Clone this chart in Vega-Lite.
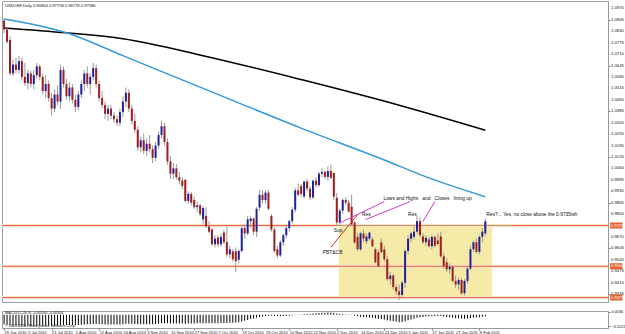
{
"$schema": "https://vega.github.io/schema/vega-lite/v6.json",
"padding": 0,
"background": "white",
"spacing": 6,
"config": {"font": "Liberation Sans", "view": {"stroke": "#a0a0a0", "strokeWidth": 1}, "scale": {"continuousPadding": 0}},
"datasets": {
"bars": [
{"i":0,"o":1.0900,"h":1.0915,"l":1.0830,"c":1.0850,"m":-0.0100},
{"i":1,"o":1.0850,"h":1.0860,"l":1.0770,"c":1.0780,"m":-0.0105},
{"i":2,"o":1.0790,"h":1.0810,"l":1.0590,"c":1.0600,"m":-0.0112},
{"i":3,"o":1.0600,"h":1.0680,"l":1.0585,"c":1.0650,"m":-0.0115},
{"i":4,"o":1.0650,"h":1.0690,"l":1.0600,"c":1.0620,"m":-0.0117},
{"i":5,"o":1.0620,"h":1.0700,"l":1.0600,"c":1.0670,"m":-0.0118},
{"i":6,"o":1.0670,"h":1.0690,"l":1.0560,"c":1.0580,"m":-0.0120},
{"i":7,"o":1.0580,"h":1.0660,"l":1.0530,"c":1.0545,"m":-0.0121},
{"i":8,"o":1.0545,"h":1.0620,"l":1.0510,"c":1.0600,"m":-0.0121},
{"i":9,"o":1.0600,"h":1.0615,"l":1.0520,"c":1.0540,"m":-0.0120},
{"i":10,"o":1.0540,"h":1.0620,"l":1.0510,"c":1.0590,"m":-0.0119},
{"i":11,"o":1.0590,"h":1.0660,"l":1.0570,"c":1.0640,"m":-0.0117},
{"i":12,"o":1.0640,"h":1.0650,"l":1.0560,"c":1.0580,"m":-0.0116},
{"i":13,"o":1.0580,"h":1.0600,"l":1.0480,"c":1.0500,"m":-0.0116},
{"i":14,"o":1.0500,"h":1.0590,"l":1.0460,"c":1.0540,"m":-0.0115},
{"i":15,"o":1.0540,"h":1.0560,"l":1.0440,"c":1.0460,"m":-0.0115},
{"i":16,"o":1.0460,"h":1.0490,"l":1.0360,"c":1.0400,"m":-0.0116},
{"i":17,"o":1.0400,"h":1.0510,"l":1.0380,"c":1.0480,"m":-0.0115},
{"i":18,"o":1.0480,"h":1.0530,"l":1.0420,"c":1.0440,"m":-0.0114},
{"i":19,"o":1.0440,"h":1.0650,"l":1.0400,"c":1.0620,"m":-0.0110},
{"i":20,"o":1.0620,"h":1.0640,"l":1.0520,"c":1.0540,"m":-0.0108},
{"i":21,"o":1.0540,"h":1.0570,"l":1.0450,"c":1.0470,"m":-0.0108},
{"i":22,"o":1.0470,"h":1.0550,"l":1.0440,"c":1.0520,"m":-0.0107},
{"i":23,"o":1.0520,"h":1.0540,"l":1.0430,"c":1.0450,"m":-0.0107},
{"i":24,"o":1.0450,"h":1.0480,"l":1.0380,"c":1.0410,"m":-0.0108},
{"i":25,"o":1.0410,"h":1.0500,"l":1.0390,"c":1.0480,"m":-0.0107},
{"i":26,"o":1.0480,"h":1.0560,"l":1.0460,"c":1.0540,"m":-0.0105},
{"i":27,"o":1.0540,"h":1.0620,"l":1.0500,"c":1.0600,"m":-0.0102},
{"i":28,"o":1.0600,"h":1.0640,"l":1.0520,"c":1.0540,"m":-0.0101},
{"i":29,"o":1.0540,"h":1.0600,"l":1.0480,"c":1.0580,"m":-0.0100},
{"i":30,"o":1.0580,"h":1.0660,"l":1.0560,"c":1.0630,"m":-0.0098},
{"i":31,"o":1.0630,"h":1.0650,"l":1.0520,"c":1.0540,"m":-0.0098},
{"i":32,"o":1.0540,"h":1.0560,"l":1.0440,"c":1.0460,"m":-0.0099},
{"i":33,"o":1.0460,"h":1.0500,"l":1.0400,"c":1.0420,"m":-0.0100},
{"i":34,"o":1.0420,"h":1.0440,"l":1.0340,"c":1.0370,"m":-0.0102},
{"i":35,"o":1.0370,"h":1.0420,"l":1.0330,"c":1.0400,"m":-0.0102},
{"i":36,"o":1.0400,"h":1.0420,"l":1.0340,"c":1.0360,"m":-0.0103},
{"i":37,"o":1.0360,"h":1.0380,"l":1.0320,"c":1.0340,"m":-0.0103},
{"i":38,"o":1.0340,"h":1.0360,"l":1.0300,"c":1.0320,"m":-0.0104},
{"i":39,"o":1.0320,"h":1.0400,"l":1.0300,"c":1.0380,"m":-0.0102},
{"i":40,"o":1.0380,"h":1.0470,"l":1.0350,"c":1.0440,"m":-0.0099},
{"i":41,"o":1.0440,"h":1.0520,"l":1.0410,"c":1.0490,"m":-0.0096},
{"i":42,"o":1.0490,"h":1.0510,"l":1.0380,"c":1.0400,"m":-0.0095},
{"i":43,"o":1.0400,"h":1.0420,"l":1.0310,"c":1.0330,"m":-0.0096},
{"i":44,"o":1.0330,"h":1.0370,"l":1.0260,"c":1.0280,"m":-0.0098},
{"i":45,"o":1.0280,"h":1.0300,"l":1.0160,"c":1.0180,"m":-0.0101},
{"i":46,"o":1.0180,"h":1.0240,"l":1.0150,"c":1.0220,"m":-0.0101},
{"i":47,"o":1.0220,"h":1.0260,"l":1.0140,"c":1.0160,"m":-0.0101},
{"i":48,"o":1.0160,"h":1.0230,"l":1.0130,"c":1.0200,"m":-0.0100},
{"i":49,"o":1.0200,"h":1.0250,"l":1.0150,"c":1.0170,"m":-0.0099},
{"i":50,"o":1.0170,"h":1.0190,"l":1.0090,"c":1.0120,"m":-0.0099},
{"i":51,"o":1.0120,"h":1.0210,"l":1.0100,"c":1.0190,"m":-0.0097},
{"i":52,"o":1.0190,"h":1.0270,"l":1.0170,"c":1.0250,"m":-0.0094},
{"i":53,"o":1.0250,"h":1.0330,"l":1.0230,"c":1.0300,"m":-0.0091},
{"i":54,"o":1.0300,"h":1.0320,"l":1.0190,"c":1.0210,"m":-0.0090},
{"i":55,"o":1.0210,"h":1.0230,"l":1.0080,"c":1.0100,"m":-0.0091},
{"i":56,"o":1.0100,"h":1.0130,"l":1.0000,"c":1.0030,"m":-0.0092},
{"i":57,"o":1.0030,"h":1.0090,"l":1.0000,"c":1.0060,"m":-0.0092},
{"i":58,"o":1.0060,"h":1.0085,"l":0.9995,"c":1.0010,"m":-0.0092},
{"i":59,"o":1.0010,"h":1.0040,"l":0.9970,"c":0.9990,"m":-0.0093},
{"i":60,"o":0.9990,"h":1.0010,"l":0.9940,"c":0.9960,"m":-0.0093},
{"i":61,"o":0.9995,"h":1.0000,"l":0.9870,"c":0.9875,"m":-0.0094},
{"i":62,"o":0.9875,"h":0.9930,"l":0.9860,"c":0.9915,"m":-0.0093},
{"i":63,"o":0.9915,"h":0.9925,"l":0.9850,"c":0.9865,"m":-0.0092},
{"i":64,"o":0.9880,"h":0.9900,"l":0.9830,"c":0.9840,"m":-0.0092},
{"i":65,"o":0.9840,"h":0.9870,"l":0.9810,"c":0.9850,"m":-0.0091},
{"i":66,"o":0.9850,"h":0.9860,"l":0.9790,"c":0.9800,"m":-0.0091},
{"i":67,"o":0.9770,"h":0.9845,"l":0.9740,"c":0.9835,"m":-0.0090},
{"i":68,"o":0.9790,"h":0.9840,"l":0.9720,"c":0.9730,"m":-0.0090},
{"i":69,"o":0.9730,"h":0.9760,"l":0.9690,"c":0.9700,"m":-0.0090},
{"i":70,"o":0.9712,"h":0.9720,"l":0.9620,"c":0.9628,"m":-0.0091},
{"i":71,"o":0.9628,"h":0.9680,"l":0.9610,"c":0.9660,"m":-0.0090},
{"i":72,"o":0.9667,"h":0.9680,"l":0.9610,"c":0.9628,"m":-0.0090},
{"i":73,"o":0.9628,"h":0.9690,"l":0.9615,"c":0.9670,"m":-0.0088},
{"i":74,"o":0.9695,"h":0.9710,"l":0.9630,"c":0.9640,"m":-0.0087},
{"i":75,"o":0.9640,"h":0.9730,"l":0.9555,"c":0.9571,"m":-0.0087},
{"i":76,"o":0.9571,"h":0.9620,"l":0.9550,"c":0.9600,"m":-0.0085},
{"i":77,"o":0.9588,"h":0.9600,"l":0.9530,"c":0.9543,"m":-0.0084},
{"i":78,"o":0.9588,"h":0.9610,"l":0.9470,"c":0.9532,"m":-0.0083},
{"i":79,"o":0.9540,"h":0.9600,"l":0.9520,"c":0.9590,"m":-0.0079},
{"i":80,"o":0.9590,"h":0.9730,"l":0.9580,"c":0.9720,"m":-0.0072},
{"i":81,"o":0.9720,"h":0.9740,"l":0.9660,"c":0.9690,"m":-0.0064},
{"i":82,"o":0.9690,"h":0.9790,"l":0.9680,"c":0.9770,"m":-0.0055},
{"i":83,"o":0.9760,"h":0.9790,"l":0.9720,"c":0.9775,"m":-0.0046},
{"i":84,"o":0.9775,"h":0.9780,"l":0.9680,"c":0.9700,"m":-0.0040},
{"i":85,"o":0.9700,"h":0.9840,"l":0.9670,"c":0.9830,"m":-0.0032},
{"i":86,"o":0.9837,"h":0.9940,"l":0.9820,"c":0.9910,"m":-0.0024},
{"i":87,"o":0.9910,"h":0.9935,"l":0.9860,"c":0.9880,"m":-0.0018},
{"i":88,"o":0.9880,"h":0.9935,"l":0.9860,"c":0.9922,"m":-0.0013},
{"i":89,"o":0.9922,"h":0.9940,"l":0.9820,"c":0.9830,"m":-0.0011},
{"i":90,"o":0.9790,"h":0.9800,"l":0.9700,"c":0.9712,"m":-0.0011},
{"i":91,"o":0.9712,"h":0.9725,"l":0.9580,"c":0.9590,"m":-0.0013},
{"i":92,"o":0.9600,"h":0.9620,"l":0.9550,"c":0.9565,"m":-0.0015},
{"i":93,"o":0.9565,"h":0.9650,"l":0.9555,"c":0.9640,"m":-0.0015},
{"i":94,"o":0.9640,"h":0.9690,"l":0.9620,"c":0.9680,"m":-0.0014},
{"i":95,"o":0.9680,"h":0.9740,"l":0.9660,"c":0.9720,"m":-0.0012},
{"i":96,"o":0.9720,"h":0.9770,"l":0.9700,"c":0.9760,"m":-0.0010},
{"i":97,"o":0.9760,"h":0.9840,"l":0.9745,"c":0.9825,"m":-0.0007},
{"i":98,"o":0.9825,"h":0.9950,"l":0.9810,"c":0.9935,"m":-0.0002},
{"i":99,"o":0.9935,"h":0.9975,"l":0.9900,"c":0.9910,"m":0.0002},
{"i":100,"o":0.9960,"h":0.9970,"l":0.9900,"c":0.9915,"m":0.0004},
{"i":101,"o":0.9900,"h":0.9990,"l":0.9890,"c":0.9985,"m":0.0008},
{"i":102,"o":0.9985,"h":1.0000,"l":0.9930,"c":0.9945,"m":0.0010},
{"i":103,"o":0.9945,"h":0.9960,"l":0.9880,"c":0.9895,"m":0.0011},
{"i":104,"o":0.9895,"h":0.9995,"l":0.9885,"c":0.9990,"m":0.0013},
{"i":105,"o":0.9990,"h":1.0010,"l":0.9950,"c":0.9965,"m":0.0015},
{"i":106,"o":0.9965,"h":1.0040,"l":0.9955,"c":1.0030,"m":0.0018},
{"i":107,"o":1.0030,"h":1.0060,"l":1.0010,"c":1.0040,"m":0.0021},
{"i":108,"o":1.0040,"h":1.0050,"l":1.0000,"c":1.0012,"m":0.0022},
{"i":109,"o":1.0012,"h":1.0070,"l":0.9990,"c":1.0045,"m":0.0024},
{"i":110,"o":1.0045,"h":1.0080,"l":1.0000,"c":1.0006,"m":0.0025},
{"i":111,"o":1.0034,"h":1.0040,"l":0.9880,"c":0.9899,"m":0.0022},
{"i":112,"o":0.9893,"h":0.9920,"l":0.9735,"c":0.9752,"m":0.0014},
{"i":113,"o":0.9752,"h":0.9830,"l":0.9740,"c":0.9820,"m":0.0010},
{"i":114,"o":0.9820,"h":0.9890,"l":0.9800,"c":0.9880,"m":0.0008},
{"i":115,"o":0.9880,"h":0.9895,"l":0.9850,"c":0.9865,"m":0.0006},
{"i":116,"o":0.9865,"h":0.9880,"l":0.9810,"c":0.9814,"m":0.0003},
{"i":117,"o":0.9842,"h":0.9910,"l":0.9730,"c":0.9741,"m":-0.0002},
{"i":118,"o":0.9752,"h":0.9760,"l":0.9630,"c":0.9639,"m":-0.0009},
{"i":119,"o":0.9670,"h":0.9690,"l":0.9590,"c":0.9600,"m":-0.0016},
{"i":120,"o":0.9600,"h":0.9700,"l":0.9590,"c":0.9690,"m":-0.0020},
{"i":121,"o":0.9690,"h":0.9710,"l":0.9640,"c":0.9660,"m":-0.0024},
{"i":122,"o":0.9645,"h":0.9690,"l":0.9630,"c":0.9673,"m":-0.0027},
{"i":123,"o":0.9660,"h":0.9700,"l":0.9650,"c":0.9695,"m":-0.0028},
{"i":124,"o":0.9656,"h":0.9670,"l":0.9610,"c":0.9617,"m":-0.0031},
{"i":125,"o":0.9600,"h":0.9610,"l":0.9520,"c":0.9526,"m":-0.0037},
{"i":126,"o":0.9583,"h":0.9600,"l":0.9500,"c":0.9503,"m":-0.0043},
{"i":127,"o":0.9639,"h":0.9660,"l":0.9580,"c":0.9583,"m":-0.0046},
{"i":128,"o":0.9599,"h":0.9620,"l":0.9530,"c":0.9543,"m":-0.0050},
{"i":129,"o":0.9543,"h":0.9560,"l":0.9420,"c":0.9430,"m":-0.0058},
{"i":130,"o":0.9430,"h":0.9470,"l":0.9400,"c":0.9450,"m":-0.0062},
{"i":131,"o":0.9450,"h":0.9460,"l":0.9370,"c":0.9385,"m":-0.0068},
{"i":132,"o":0.9385,"h":0.9400,"l":0.9340,"c":0.9360,"m":-0.0074},
{"i":133,"o":0.9360,"h":0.9400,"l":0.9310,"c":0.9340,"m":-0.0078},
{"i":134,"o":0.9340,"h":0.9420,"l":0.9330,"c":0.9410,"m":-0.0077},
{"i":135,"o":0.9410,"h":0.9600,"l":0.9380,"c":0.9590,"m":-0.0068},
{"i":136,"o":0.9590,"h":0.9680,"l":0.9570,"c":0.9660,"m":-0.0058},
{"i":137,"o":0.9660,"h":0.9700,"l":0.9640,"c":0.9690,"m":-0.0049},
{"i":138,"o":0.9670,"h":0.9730,"l":0.9655,"c":0.9700,"m":-0.0041},
{"i":139,"o":0.9700,"h":0.9790,"l":0.9690,"c":0.9760,"m":-0.0032},
{"i":140,"o":0.9760,"h":0.9780,"l":0.9670,"c":0.9680,"m":-0.0027},
{"i":141,"o":0.9673,"h":0.9690,"l":0.9630,"c":0.9640,"m":-0.0023},
{"i":142,"o":0.9640,"h":0.9680,"l":0.9620,"c":0.9665,"m":-0.0019},
{"i":143,"o":0.9656,"h":0.9670,"l":0.9610,"c":0.9617,"m":-0.0017},
{"i":144,"o":0.9617,"h":0.9680,"l":0.9600,"c":0.9670,"m":-0.0014},
{"i":145,"o":0.9670,"h":0.9680,"l":0.9610,"c":0.9620,"m":-0.0013},
{"i":146,"o":0.9650,"h":0.9690,"l":0.9620,"c":0.9630,"m":-0.0012},
{"i":147,"o":0.9673,"h":0.9700,"l":0.9550,"c":0.9560,"m":-0.0014},
{"i":148,"o":0.9560,"h":0.9580,"l":0.9490,"c":0.9503,"m":-0.0019},
{"i":149,"o":0.9526,"h":0.9550,"l":0.9470,"c":0.9486,"m":-0.0024},
{"i":150,"o":0.9486,"h":0.9520,"l":0.9460,"c":0.9500,"m":-0.0027},
{"i":151,"o":0.9500,"h":0.9510,"l":0.9410,"c":0.9420,"m":-0.0032},
{"i":152,"o":0.9420,"h":0.9450,"l":0.9380,"c":0.9400,"m":-0.0036},
{"i":153,"o":0.9400,"h":0.9440,"l":0.9370,"c":0.9425,"m":-0.0038},
{"i":154,"o":0.9425,"h":0.9435,"l":0.9340,"c":0.9350,"m":-0.0042},
{"i":155,"o":0.9350,"h":0.9430,"l":0.9338,"c":0.9420,"m":-0.0042},
{"i":156,"o":0.9420,"h":0.9500,"l":0.9405,"c":0.9490,"m":-0.0040},
{"i":157,"o":0.9490,"h":0.9620,"l":0.9480,"c":0.9600,"m":-0.0035},
{"i":158,"o":0.9600,"h":0.9650,"l":0.9585,"c":0.9640,"m":-0.0031},
{"i":159,"o":0.9640,"h":0.9660,"l":0.9575,"c":0.9585,"m":-0.0029},
{"i":160,"o":0.9585,"h":0.9680,"l":0.9570,"c":0.9670,"m":-0.0025},
{"i":161,"o":0.9670,"h":0.9720,"l":0.9640,"c":0.9700,"m":-0.0021},
{"i":162,"o":0.96904,"h":0.97758,"l":0.96778,"c":0.97586,"m":-0.0016}
],
"ma200": [
{"i":0,"p":1.0859},{"i":21,"p":1.0831},{"i":40,"p":1.0797},{"i":67,"p":1.0701},{"i":100,"p":1.0565},{"i":133,"p":1.0419},{"i":162,"p":1.0277}
],
"ma100": [
{"i":0,"p":1.0910},{"i":21,"p":1.0831},{"i":40,"p":1.0701},{"i":67,"p":1.0515},{"i":100,"p":1.0289},{"i":128,"p":1.0108},{"i":143,"p":1.0006},{"i":162,"p":0.9899}
],
"levels": [{"p":0.9735,"t":"0.97350"},{"p":0.9503,"t":"0.95030"},{"p":0.9325,"t":"0.93250"}],
"yticks": [{"v":0.9345},{"v":0.9410},{"v":0.9475},{"v":0.9540},{"v":0.9605},{"v":0.9670},{"v":0.9800},{"v":0.9865},{"v":0.9930},{"v":0.9995},{"v":1.0060},{"v":1.0125},{"v":1.0190},{"v":1.0255},{"v":1.0320},{"v":1.0385},{"v":1.0450},{"v":1.0515},{"v":1.0580},{"v":1.0645},{"v":1.0710},{"v":1.0775},{"v":1.0840},{"v":1.0905},{"v":1.0970}],
"dates": [
{"i":0,"t":"29 Jun 2010"},{"i":8,"t":"9 Jul 2010"},{"i":16,"t":"21 Jul 2010"},{"i":24,"t":"2 Aug 2010"},{"i":32,"t":"12 Aug 2010"},{"i":40,"t":"24 Aug 2010"},{"i":48,"t":"3 Sep 2010"},{"i":56,"t":"15 Sep 2010"},{"i":64,"t":"27 Sep 2010"},{"i":72,"t":"7 Oct 2010"},{"i":80,"t":"19 Oct 2010"},{"i":88,"t":"29 Oct 2010"},{"i":96,"t":"10 Nov 2010"},{"i":104,"t":"22 Nov 2010"},{"i":112,"t":"2 Dec 2010"},{"i":120,"t":"14 Dec 2010"},{"i":128,"t":"24 Dec 2010"},{"i":136,"t":"5 Jan 2011"},{"i":144,"t":"17 Jan 2011"},{"i":152,"t":"27 Jan 2011"},{"i":160,"t":"8 Feb 2011"}
],
"magenta": [
{"id":"a","i":113.3,"p":0.9752},{"id":"a","i":128,"p":0.9871},
{"id":"b","i":121.7,"p":0.9769},{"id":"b","i":136.7,"p":0.9871},
{"id":"c","i":141,"p":0.9758},{"id":"c","i":145,"p":0.9871}
],
"redline": [{"i":110,"p":0.9611},{"i":119,"p":0.9797}],
"notes": [
{"i":127.7,"p":0.9888,"t":"Lows and Highs \u00a0 and \u00a0 Closes \u00a0 lining up"},
{"i":120.5,"p":0.9792,"t":"Res"},
{"i":136,"p":0.9792,"t":"Res"},
{"i":111,"p":0.9701,"t":"Sup"},
{"i":107.3,"p":0.9577,"t":"PBT&CB"},
{"i":162.3,"p":0.9792,"t":"Res?... Yes, no close above the 0.9735ish"}
]
},
"vconcat": [
{
"width": 606, "height": 301,
"layer": [
{"data": {"values": [{"i1":112.7,"i2":164.3,"p1":0.9325,"p2":0.9735}]},
 "mark": {"type":"rect","fill":"#f5eaa8"},
 "encoding": {
  "x": {"field":"i1","type":"quantitative","scale":{"domain":[-0.7,203.3],"nice":false,"zero":false,"padding":0},"axis":null},
  "x2": {"field":"i2"},
  "y": {"field":"p1","type":"quantitative","scale":{"domain":[0.93,1.1012],"nice":false,"zero":false},
        "axis":{"orient":"right","title":null,"grid":false,"labels":false,"tickSize":2,"tickColor":"#777","domainColor":"#999",
        "values":[0.9345,0.9410,0.9475,0.9540,0.9605,0.9670,0.9735,0.9800,0.9865,0.9930,0.9995,1.0060,1.0125,1.0190,1.0255,1.0320,1.0385,1.0450,1.0515,1.0580,1.0645,1.0710,1.0775,1.0840,1.0905,1.0970]}},
  "y2": {"field":"p2"}
 }},
{"data": {"name":"levels"},
 "mark": {"type":"rule","stroke":"#fbded2","strokeWidth":3},
 "encoding": {"y": {"field":"p","type":"quantitative","scale":{"domain":[0.93,1.1012],"nice":false,"zero":false}}}},
{"data": {"name":"levels"},
 "mark": {"type":"rule","stroke":"#e66a36","strokeWidth":1},
 "encoding": {"y": {"field":"p","type":"quantitative","scale":{"domain":[0.93,1.1012],"nice":false,"zero":false}}}},
{"data": {"values": [{"i":111.7,"p":0.9735},{"i":170.7,"p":0.9735}]},
 "mark": {"type":"line","stroke":"#b8a25a","strokeWidth":1},
 "encoding": {
  "x": {"field":"i","type":"quantitative","scale":{"domain":[-0.7,203.3],"nice":false,"zero":false,"padding":0},"axis":null},
  "y": {"field":"p","type":"quantitative","scale":{"domain":[0.93,1.1012],"nice":false,"zero":false}}}},
{"data": {"name":"ma200"},
 "mark": {"type":"line","stroke":"#000000","strokeWidth":1.5,"interpolate":"monotone"},
 "encoding": {
  "x": {"field":"i","type":"quantitative","scale":{"domain":[-0.7,203.3],"nice":false,"zero":false,"padding":0},"axis":null},
  "y": {"field":"p","type":"quantitative","scale":{"domain":[0.93,1.1012],"nice":false,"zero":false}}}},
{"data": {"name":"ma100"},
 "mark": {"type":"line","stroke":"#3399dd","strokeWidth":1.5,"interpolate":"monotone"},
 "encoding": {
  "x": {"field":"i","type":"quantitative","scale":{"domain":[-0.7,203.3],"nice":false,"zero":false,"padding":0},"axis":null},
  "y": {"field":"p","type":"quantitative","scale":{"domain":[0.93,1.1012],"nice":false,"zero":false}}}},
{"data": {"name":"bars"},
 "mark": {"type":"rule","stroke":"#9a9a9a","strokeWidth":1},
 "encoding": {
  "x": {"field":"i","type":"quantitative","scale":{"domain":[-0.7,203.3],"nice":false,"zero":false,"padding":0},"axis":null},
  "y": {"field":"l","type":"quantitative","scale":{"domain":[0.93,1.1012],"nice":false,"zero":false}},
  "y2": {"field":"h"}}},
{"data": {"name":"bars"},
 "mark": {"type":"bar","size":2},
 "encoding": {
  "x": {"field":"i","type":"quantitative","scale":{"domain":[-0.7,203.3],"nice":false,"zero":false,"padding":0},"axis":null},
  "y": {"field":"o","type":"quantitative","scale":{"domain":[0.93,1.1012],"nice":false,"zero":false}},
  "y2": {"field":"c"},
  "color": {"condition":{"test":"datum.c >= datum.o","value":"#20209a"},"value":"#a11c1c"}}},
{"data": {"name":"magenta"},
 "mark": {"type":"line","stroke":"#d236d2","strokeWidth":1},
 "encoding": {
  "x": {"field":"i","type":"quantitative","scale":{"domain":[-0.7,203.3],"nice":false,"zero":false,"padding":0},"axis":null},
  "y": {"field":"p","type":"quantitative","scale":{"domain":[0.93,1.1012],"nice":false,"zero":false}},
  "detail": {"field":"id"}}},
{"data": {"name":"redline"},
 "mark": {"type":"line","stroke":"#c8381c","strokeWidth":1},
 "encoding": {
  "x": {"field":"i","type":"quantitative","scale":{"domain":[-0.7,203.3],"nice":false,"zero":false,"padding":0},"axis":null},
  "y": {"field":"p","type":"quantitative","scale":{"domain":[0.93,1.1012],"nice":false,"zero":false}}}},
{"data": {"name":"notes"},
 "mark": {"type":"text","align":"left","baseline":"middle","fontSize":4.9,"color":"#111"},
 "encoding": {
  "x": {"field":"i","type":"quantitative","scale":{"domain":[-0.7,203.3],"nice":false,"zero":false,"padding":0},"axis":null},
  "y": {"field":"p","type":"quantitative","scale":{"domain":[0.93,1.1012],"nice":false,"zero":false}},
  "text": {"field":"t"}}},
{"data": {"values": [{"i":0.3,"p":1.0985,"t":"USDCHF,Daily  0.96904 0.97758 0.96778 0.97586"}]},
 "mark": {"type":"text","align":"left","baseline":"middle","fontSize":4.1,"color":"#111"},
 "encoding": {
  "x": {"field":"i","type":"quantitative","scale":{"domain":[-0.7,203.3],"nice":false,"zero":false,"padding":0},"axis":null},
  "y": {"field":"p","type":"quantitative","scale":{"domain":[0.93,1.1012],"nice":false,"zero":false}},
  "text": {"field":"t"}}},
{"data": {"name":"yticks"},
 "mark": {"type":"text","align":"left","baseline":"middle","fontSize":4.2,"color":"#111","dx":3},
 "encoding": {
  "x": {"datum":203.3,"type":"quantitative","scale":{"domain":[-0.7,203.3],"nice":false,"zero":false,"padding":0},"axis":null},
  "y": {"field":"v","type":"quantitative","scale":{"domain":[0.93,1.1012],"nice":false,"zero":false}},
  "text": {"field":"v","type":"quantitative","format":".4f"}}},
{"data": {"name":"levels"},
 "transform": [{"calculate":"datum.p - 0.0017","as":"p1"},{"calculate":"datum.p + 0.0017","as":"p2"}],
 "mark": {"type":"rect","fill":"#e2622e"},
 "encoding": {
  "x": {"datum":204.0,"type":"quantitative","scale":{"domain":[-0.7,203.3],"nice":false,"zero":false,"padding":0},"axis":null},
  "x2": {"datum":208.2},
  "y": {"field":"p1","type":"quantitative","scale":{"domain":[0.93,1.1012],"nice":false,"zero":false}},
  "y2": {"field":"p2"}}},
{"data": {"name":"levels"},
 "mark": {"type":"text","align":"left","baseline":"middle","fontSize":3.8,"color":"#ffffff"},
 "encoding": {
  "x": {"datum":204.3,"type":"quantitative","scale":{"domain":[-0.7,203.3],"nice":false,"zero":false,"padding":0},"axis":null},
  "y": {"field":"p","type":"quantitative","scale":{"domain":[0.93,1.1012],"nice":false,"zero":false}},
  "text": {"field":"t"}}}
]
},
{
"width": 606, "height": 17,
"layer": [
{"data": {"name":"bars"},
 "mark": {"type":"bar","size":1,"color":"#000000"},
 "encoding": {
  "x": {"field":"i","type":"quantitative","scale":{"domain":[-0.7,203.3],"nice":false,"zero":false,"padding":0},
        "axis":{"title":null,"grid":false,"labels":false,"values":[0,8,16,24,32,40,48,56,64,72,80,88,96,104,112,120,128,136,144,152,160],"tickSize":2,"tickColor":"#777","domainColor":"#999"}},
  "y": {"field":"m","type":"quantitative","scale":{"domain":[-0.014,0.004],"nice":false,"zero":false},
        "axis":{"orient":"right","title":null,"grid":false,"values":[0.003,-0.0122],"format":".4f","labelFontSize":3.8,"labelColor":"#111","labelPadding":1,"tickSize":2,"tickColor":"#777","domainColor":"#999"}},
  "y2": {"datum":0}}},
{"data": {"values": [{"i":0.3,"m":0.0018,"t":"MACD(12,26,9) -0.00160 -0.00304"},{"i":0.3,"m":-0.0118,"t":"© 2001-2011, MetaQuotes Software Corp."}]},
 "mark": {"type":"text","align":"left","baseline":"middle","fontSize":3.8,"color":"#111"},
 "encoding": {
  "x": {"field":"i","type":"quantitative","scale":{"domain":[-0.7,203.3],"nice":false,"zero":false,"padding":0}},
  "y": {"field":"m","type":"quantitative","scale":{"domain":[-0.014,0.004],"nice":false,"zero":false}},
  "text": {"field":"t"}}},
{"data": {"name":"dates"},
 "mark": {"type":"text","align":"left","baseline":"top","fontSize":4,"color":"#111","dy":2.5,"dx":0.5},
 "encoding": {
  "x": {"field":"i","type":"quantitative","scale":{"domain":[-0.7,203.3],"nice":false,"zero":false,"padding":0}},
  "y": {"datum":-0.014,"type":"quantitative","scale":{"domain":[-0.014,0.004],"nice":false,"zero":false}},
  "text": {"field":"t"}}}
]
}
]
}
